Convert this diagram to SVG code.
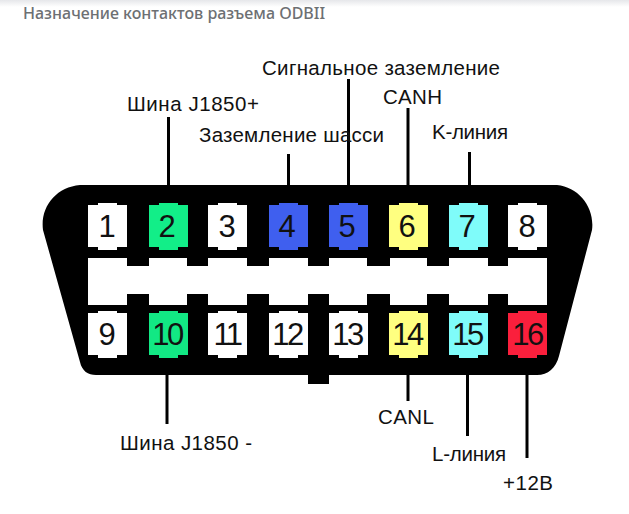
<svg xmlns="http://www.w3.org/2000/svg" width="629" height="514" viewBox="0 0 629 514">
<style>
.lab{font-family:"Liberation Sans",Arial,sans-serif;font-size:20.500px;fill:#111}
.num{font-family:"Liberation Sans",Arial,sans-serif;font-size:31px;fill:#111;text-anchor:middle}
.two{letter-spacing:-2.500px}
.ln{stroke:#000;stroke-width:3;fill:none}
.k{fill:#000}
</style>
<defs>
<linearGradient id="top" x1="0" y1="0" x2="0" y2="1"><stop offset="0" stop-color="#e6e7ea"/><stop offset="1" stop-color="#fff"/></linearGradient>
<path id="pin" d="M0 0H10V-2H29V0H39V42H29V45H10V42H0Z"/>
</defs>
<rect width="629" height="514" fill="#fff"/>
<rect width="629" height="7" fill="url(#top)"/>
<text x="23" y="19" font-family="'Noto Sans','Open Sans',sans-serif" font-size="16" font-weight="500" fill="#6d7073">Назначение контактов разъема ODBII</text>
<g id="connector-body">
<path class="k" d="M80 185H557C579 187 595 208 592 230L559 356C556 368 548 375 537 375H329V384H308V375H96C88 375 82 371 80 362L43 230C40 207 56 187 80 185Z"/>
<path fill="#fff" d="M88 258H127V266H149V258H187V266H208V258H247V266H269V258H308V266H329V258H367V266H390V258H427V266H449V258H488V266H508V258H547V305H508V294H488V305H449V294H427V305H390V294H367V305H329V294H308V305H269V294H247V305H208V294H187V305H149V294H127V305H88Z"/>
</g>
<g id="connectors">
<path class="ln" d="M168.500 117V209"/>
<path class="ln" d="M288.500 154V209"/>
<path class="ln" d="M348.500 79V208"/>
<path class="ln" d="M408 108V208"/>
<path class="ln" d="M469.500 152V208"/>
<path class="ln" d="M167 352V424"/>
<path class="ln" d="M408 352V401"/>
<path class="ln" d="M467.500 346V436"/>
<path class="ln" d="M527 350V458"/>
</g>
<g id="pin-1"><use href="#pin" x="88" y="205" fill="#fff"/><text class="num" x="107" y="237">1</text></g>
<g id="pin-2"><use href="#pin" x="149" y="205" fill="#12ee88"/><text class="num" x="167" y="237">2</text></g>
<g id="pin-3"><use href="#pin" x="208" y="205" fill="#fff"/><text class="num" x="227" y="237">3</text></g>
<g id="pin-4"><use href="#pin" x="269" y="205" fill="#3f5fef"/><text class="num" x="287" y="237">4</text></g>
<g id="pin-5"><use href="#pin" x="329" y="205" fill="#3f5fef"/><text class="num" x="347" y="237">5</text></g>
<g id="pin-6"><use href="#pin" x="389" y="205" fill="#ffff80"/><text class="num" x="407" y="237">6</text></g>
<g id="pin-7"><use href="#pin" x="449" y="205" fill="#7ffcfa"/><text class="num" x="467" y="237">7</text></g>
<g id="pin-8"><use href="#pin" x="508" y="205" fill="#fff"/><text class="num" x="527" y="237">8</text></g>
<g id="pin-9"><use href="#pin" x="88" y="313" fill="#fff"/><text class="num" x="107" y="345">9</text></g>
<g id="pin-10"><use href="#pin" x="149" y="313" fill="#12e884"/><text class="num two" x="167" y="345">10</text></g>
<g id="pin-11"><use href="#pin" x="208" y="313" fill="#fff"/><text class="num two" x="227" y="345">11</text></g>
<g id="pin-12"><use href="#pin" x="269" y="313" fill="#fff"/><text class="num two" x="287" y="345">12</text></g>
<g id="pin-13"><use href="#pin" x="329" y="313" fill="#fff"/><text class="num two" x="347" y="345">13</text></g>
<g id="pin-14"><use href="#pin" x="389" y="313" fill="#ffff80"/><text class="num two" x="407" y="345">14</text></g>
<g id="pin-15"><use href="#pin" x="449" y="313" fill="#7ffcfa"/><text class="num two" x="467" y="345">15</text></g>
<g id="pin-16"><use href="#pin" x="508" y="313" fill="#fa1f3c"/><text class="num two" x="527" y="345">16</text></g>
<g id="labels">
<text class="lab" x="127" y="111" textLength="132">Шина J1850+</text>
<text class="lab" x="199" y="142" textLength="185">Заземление шасси</text>
<text class="lab" x="262" y="75" textLength="238">Сигнальное заземление</text>
<text class="lab" x="383" y="104" textLength="59">CANH</text>
<text class="lab" x="432" y="139" textLength="76">K-линия</text>
<text class="lab" x="120" y="450" textLength="132">Шина J1850 -</text>
<text class="lab" x="378" y="424" textLength="56">CANL</text>
<text class="lab" x="432" y="461" textLength="74">L-линия</text>
<text class="lab" x="503" y="490" textLength="50">+12B</text>
</g>
</svg>
